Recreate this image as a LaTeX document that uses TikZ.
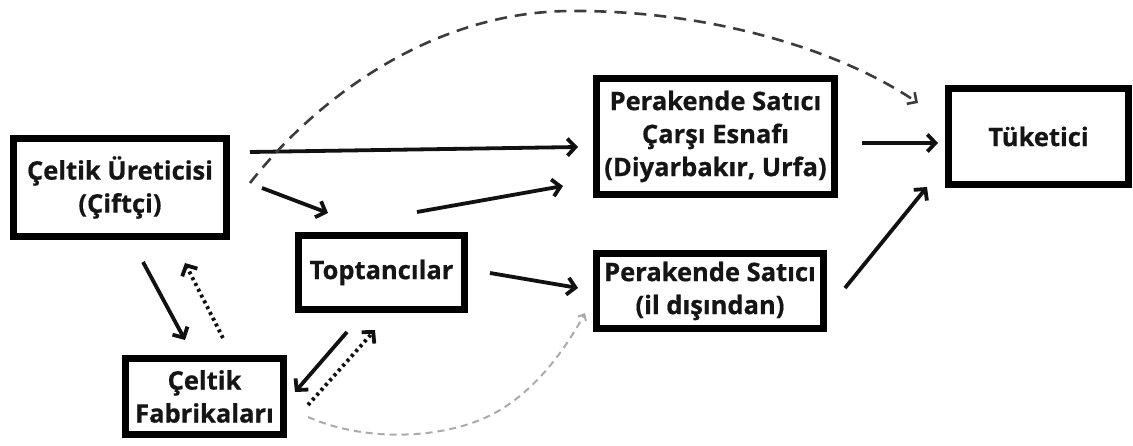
\documentclass[tikz,border=0pt]{standalone}
\usepackage{fontspec}
\setmainfont{Open Sans}[BoldFeatures={FakeBold=0.6}]
\usetikzlibrary{arrows.meta,calc}
\definecolor{txt}{HTML}{151515}
\definecolor{ink}{HTML}{111111}
\definecolor{dashgray}{HTML}{3C3C3C}
\definecolor{lightgray}{HTML}{ABABAB}
\tikzset{
  box/.style={draw=black, line width=7pt, fill=white, inner sep=0pt, align=center,
    text=txt, font=\fontsize{25.5}{33}\selectfont\bfseries},
  solidarr/.style={draw=ink, line width=3.8pt, -{Straight Barb[length=8pt,width=17pt]}},
  dotarr/.style={draw=ink, line width=3.8pt, dash pattern=on 3pt off 3.5pt,
    -{Straight Barb[length=8pt,width=17pt]}},
  topdash/.style={draw=dashgray, line width=2.6pt, dash pattern=on 12pt off 8pt,
    -{Straight Barb[length=7pt,width=14pt]}},
  lowdash/.style={draw=lightgray, line width=2pt, dash pattern=on 7pt off 5pt,
    -{Straight Barb[length=5pt,width=9pt]}}
}
\begin{document}
\begin{tikzpicture}[x=1pt,y=-1pt]
\path[use as bounding box] (0,0) rectangle (1133,446);
% boxes
\node[box, minimum width=213pt, minimum height=98pt] (prod) at (120,187.5) {Çeltik Üreticisi\\(Çiftçi)};
\node[box, minimum width=166pt, minimum height=74pt] (top) at (381.5,272.5) {Toptancılar};
\node[box, minimum width=158pt, minimum height=76pt] (fab) at (204.5,396.5) {Çeltik\\Fabrikaları};
\node[box, minimum width=238pt, minimum height=116pt] (per1) at (715.5,136.5) {Perakende Satıcı\\Çarşı Esnafı\\(Diyarbakır, Urfa)};
\node[box, minimum width=227pt, minimum height=75pt] (per2) at (710,291) {Perakende Satıcı\\(il dışından)};
\node[box, minimum width=180pt, minimum height=96pt] (tuk) at (1038.5,136.5) {Tüketici};
% solid arrows
\draw[solidarr] ([shift={(20,-35.5)}]prod.east) -- ([shift={(-15,10.5)}]per1.west);
\draw[solidarr] ([shift={(32,0.5)}]prod.east) -- ([shift={(-53.5,-19)}]top.north);
\draw[solidarr] ([shift={(35.5,-20)}]top.north) -- ([shift={(-30,49.5)}]per1.west);
\draw[solidarr] ([shift={(22,0.5)}]top.east) -- ([shift={(-15,-3)}]per2.west);
\draw[solidarr] ([shift={(24,6.5)}]per1.east) -- ([shift={(-7,6.5)}]tuk.west);
\draw[solidarr] ([shift={(18,-3)}]per2.east) -- ([shift={(-18,-1)}]tuk.south west);
\draw[solidarr] ([shift={(23,22)}]prod.south) -- ([shift={(-19.5,-15)}]fab.north);
\draw[solidarr] ([shift={(-34.5,19)}]top.south) -- ([shift={(8,-4.5)}]fab.east);
% dotted arrows
\draw[dotarr] ([shift={(18.5,-17)}]fab.north) -- ([shift={(65,23)}]prod.south);
\draw[dotarr] ([shift={(21,8.5)}]fab.east) -- ([shift={(-6.5,17)}]top.south);
% dashed curves
\draw[topdash] ([shift={(20,-4.5)}]prod.east) .. controls (315,100) and (430,12) .. (570,11)
  .. controls (710,10) and (840,50) .. ([shift={(-27,-33.5)}]tuk.west);
\draw[lowdash] ([shift={(21,20.5)}]fab.east) .. controls (360,440) and (430,440) .. (480,420)
  .. controls (530,400) and (565,350) .. ([shift={(-8,22)}]per2.west);
\end{tikzpicture}
\end{document}
